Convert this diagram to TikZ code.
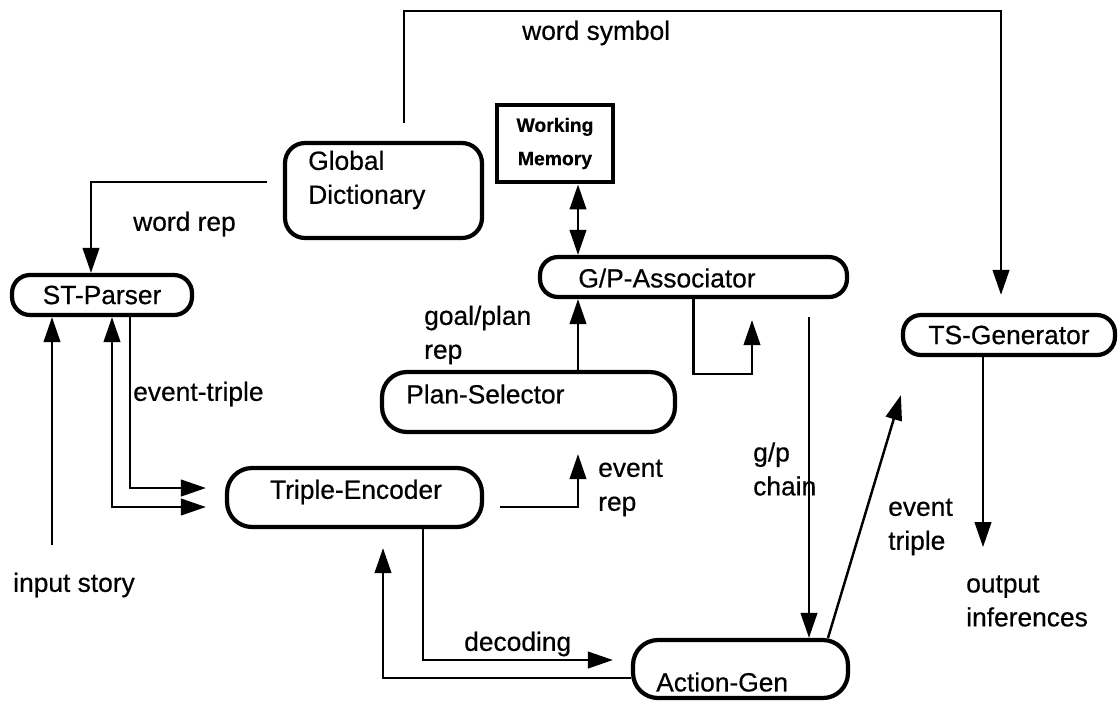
\documentclass[tikz,border=0pt]{standalone}
\usepackage{fontspec}
\setmainfont{Liberation Sans}[FakeBold=0.5]
\usetikzlibrary{arrows.meta}
\begin{document}
\begin{tikzpicture}[x=0.02cm, y=-0.02cm, line width=1.4pt,
  >={Triangle[length=0.5cm,width=0.33cm]},
  module/.style={draw, line width=2.4pt, rounded corners=0.4cm, inner sep=0pt},
  memo/.style={draw, line width=2.8pt, inner sep=0pt, align=center, font=\bfseries\fontsize{11}{19}\selectfont},
  txt/.style={inner sep=0pt, align=left, font=\fontsize{15}{19.3}\selectfont}]
\useasboundingbox (0,0) rectangle (1118,701);
% modules
\node[module, minimum width=3.94cm, minimum height=1.9cm] (gd) at (383.5,190.5) {};
\node[txt, anchor=west] (gdtxt) at (307,180) {Global\\Dictionary};
\node[memo, minimum width=2.32cm, minimum height=1.54cm] (wm) at (555,143.5) {Working\\Memory};
\node[module, rounded corners=0.36cm, minimum width=6.14cm, minimum height=0.8cm] (gp) at (693.5,277) {};
\node[txt] (gptxt) at (667,278) {G/P-Associator};
\node[module, txt, rounded corners=0.36cm, minimum width=3.6cm, minimum height=0.8cm] (st) at (102,295) {ST-Parser};
\node[module, txt, rounded corners=0.36cm, minimum width=4.24cm, minimum height=0.8cm] (ts) at (1009,335) {TS-Generator};
\node[module, rounded corners=0.5cm, minimum width=5.86cm, minimum height=1.2cm] (ps) at (528.5,402) {};
\node[txt, anchor=west] (pstxt) at (405,394) {Plan-Selector};
\node[module, rounded corners=0.5cm, minimum width=5.1cm, minimum height=1.18cm] (te) at (354.5,497.5) {};
\node[txt] (tetxt) at (356,492) {Triple-Encoder};
\node[module, rounded corners=0.5cm, minimum width=4.3cm, minimum height=1.16cm] (ag) at (740.5,669) {};
\node[txt, anchor=west] (agtxt) at (655,682) {Action-Gen};
% labels
\node[txt, anchor=west] (wsym) at (521,33) {word symbol};
\node[txt, anchor=west] (wrep) at (132,224) {word rep};
\node[txt, anchor=west] (gprep) at (423,335) {goal/plan\\rep};
\node[txt, anchor=west] (etrip) at (132,394) {event-triple};
\node[txt, anchor=west] (erep) at (597,488) {event\\rep};
\node[txt, anchor=west] (chain) at (752,469) {g/p\\chain};
\node[txt, anchor=west] (ntrip) at (887,527) {event\\triple};
\node[txt, anchor=west] (outinf) at (965,601) {output\\inferences};
\node[txt, anchor=west] (instory) at (12,585) {input story};
\node[txt, anchor=west] (dec) at (463,644) {decoding};
\coordinate (insrc) at (52,545);
% connectors
\draw[->] ([xshift=0.41cm,yshift=0.36cm]gd.north) -- ++(0,-112) -| ([xshift=-0.16cm,yshift=0.36cm]ts.north);
\draw[->] ([xshift=-0.32cm,yshift=0.17cm]gd.west) -| ([xshift=-0.22cm]st.north);
\draw[<->] ([xshift=0.46cm]wm.south) -- ([xshift=0.46cm]wm.south |- gp.north);
\draw[->] (insrc) -- (insrc |- st.south);
\draw[<->] ([xshift=0.2cm]st.south) |- ([xshift=-0.38cm,yshift=-0.19cm]te.west);
\draw[->] ([xshift=0.56cm]st.south) |- ([xshift=-0.38cm,yshift=0.19cm]te.west);
\draw[->] ([xshift=0.32cm,yshift=-0.19cm]te.east) -| ([xshift=0.99cm,yshift=-0.4cm]ps.south);
\draw[->] ([xshift=0.99cm]ps.north) -- ([xshift=0.99cm]ps.north |- gp.south);
\draw[->] (gp.south) -- ++(0,75) -| ([xshift=1.17cm,yshift=-0.42cm]gp.south);
\draw[->] ([xshift=2.31cm,yshift=-0.36cm]gp.south) -- ([xshift=2.31cm]gp.south |- ag.north);
\draw[->] ([xshift=1.75cm]ag.north) -- ([yshift=-0.76cm]ts.south west);
\draw[->] ([xshift=-0.52cm]ts.south) -- ++(0,190);
\draw[->] ([xshift=1.37cm]te.south) |- ([xshift=-0.36cm,yshift=0.18cm]ag.west);
\draw[->] ([yshift=-0.18cm]ag.west) -| ([xshift=0.57cm,yshift=-0.38cm]te.south);
\end{tikzpicture}
\end{document}
